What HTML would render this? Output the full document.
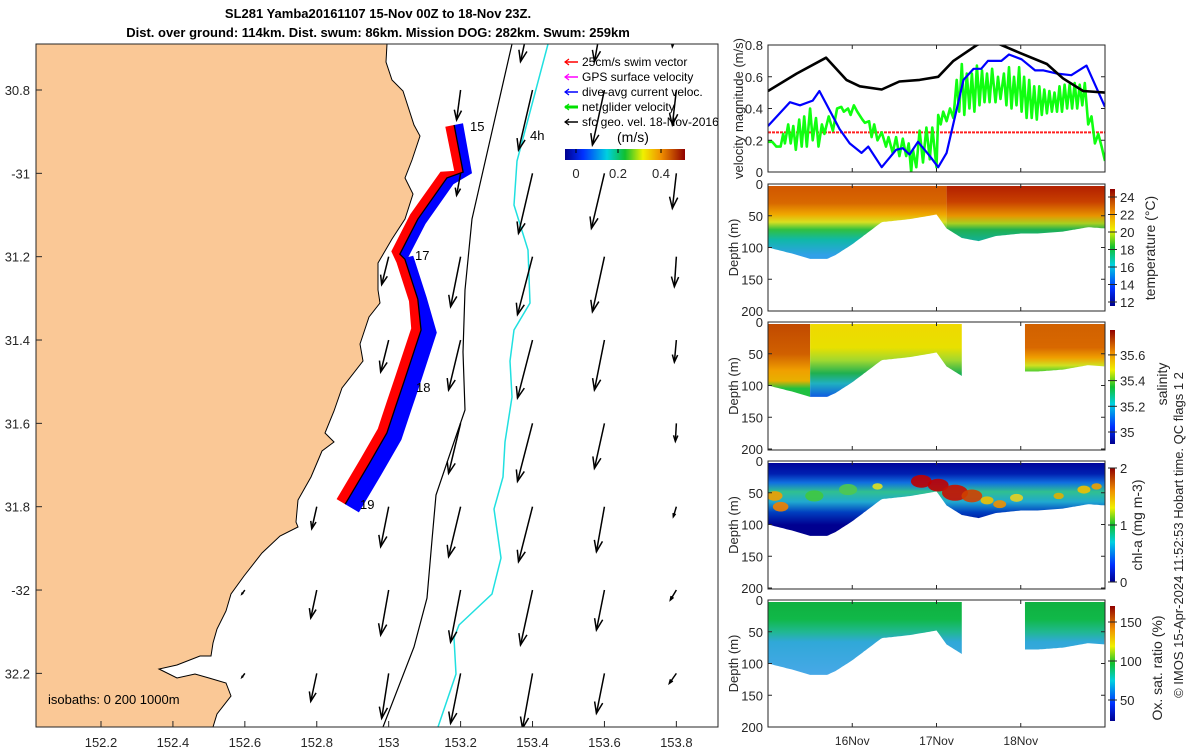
<!DOCTYPE html>
<html><head><meta charset="utf-8"><style>
html,body{margin:0;padding:0;background:#fff;}
svg{display:block;font-family:"Liberation Sans","DejaVu Sans",sans-serif;}
</style></head><body>
<svg id="fig" width="1200" height="750" viewBox="0 0 1200 750" xmlns="http://www.w3.org/2000/svg">
<defs>
<clipPath id="mapclip"><rect x="36" y="44" width="682" height="683"/></clipPath>
<clipPath id="velclip"><rect x="768" y="45" width="337" height="127"/></clipPath>
<linearGradient id="jet" x1="0" y1="1" x2="0" y2="0">
<stop offset="0" stop-color="#00008f"/><stop offset="0.15" stop-color="#0030ff"/><stop offset="0.35" stop-color="#00d0e0"/><stop offset="0.5" stop-color="#10c030"/><stop offset="0.65" stop-color="#f0f000"/><stop offset="0.8" stop-color="#f09000"/><stop offset="1" stop-color="#900000"/></linearGradient>
<linearGradient id="jeth" x1="0" y1="0" x2="1" y2="0">
<stop offset="0" stop-color="#00008f"/><stop offset="0.15" stop-color="#0030ff"/><stop offset="0.35" stop-color="#00d0e0"/><stop offset="0.5" stop-color="#10c030"/><stop offset="0.65" stop-color="#f0f000"/><stop offset="0.8" stop-color="#f09000"/><stop offset="1" stop-color="#900000"/></linearGradient>
<linearGradient id="gTempL" gradientUnits="userSpaceOnUse" x1="0" y1="184" x2="0" y2="311">
<stop offset="0" stop-color="#d05400"/><stop offset="0.15" stop-color="#d86800"/><stop offset="0.24" stop-color="#f0a800"/><stop offset="0.3" stop-color="#d8e020"/><stop offset="0.36" stop-color="#30c040"/><stop offset="0.44" stop-color="#10b8a8"/><stop offset="0.56" stop-color="#30a0e8"/><stop offset="1" stop-color="#3090f0"/></linearGradient>
<linearGradient id="gTempR" gradientUnits="userSpaceOnUse" x1="0" y1="184" x2="0" y2="311">
<stop offset="0" stop-color="#b01c00"/><stop offset="0.14" stop-color="#c84000"/><stop offset="0.25" stop-color="#e89400"/><stop offset="0.31" stop-color="#a8d020"/><stop offset="0.36" stop-color="#20b050"/><stop offset="0.46" stop-color="#10b0a0"/><stop offset="1" stop-color="#10b0a0"/></linearGradient>
<linearGradient id="gSalA" gradientUnits="userSpaceOnUse" x1="0" y1="322" x2="0" y2="450">
<stop offset="0" stop-color="#c04800"/><stop offset="0.25" stop-color="#d06000"/><stop offset="0.38" stop-color="#f0a000"/><stop offset="0.46" stop-color="#e8b000"/><stop offset="0.52" stop-color="#20c040"/><stop offset="1" stop-color="#20c040"/></linearGradient>
<linearGradient id="gSalB" gradientUnits="userSpaceOnUse" x1="0" y1="322" x2="0" y2="450">
<stop offset="0" stop-color="#f0d800"/><stop offset="0.2" stop-color="#e8e000"/><stop offset="0.3" stop-color="#a0d830"/><stop offset="0.4" stop-color="#20b050"/><stop offset="0.48" stop-color="#20b0c0"/><stop offset="0.58" stop-color="#1060e0"/><stop offset="1" stop-color="#1060e0"/></linearGradient>
<linearGradient id="gSalC" gradientUnits="userSpaceOnUse" x1="0" y1="322" x2="0" y2="450">
<stop offset="0" stop-color="#d06000"/><stop offset="0.2" stop-color="#d86800"/><stop offset="0.28" stop-color="#f0a000"/><stop offset="0.34" stop-color="#d0e020"/><stop offset="0.38" stop-color="#60d030"/><stop offset="1" stop-color="#30c040"/></linearGradient>
<linearGradient id="gChl" gradientUnits="userSpaceOnUse" x1="0" y1="461" x2="0" y2="589">
<stop offset="0" stop-color="#000098"/><stop offset="0.1" stop-color="#0020b0"/><stop offset="0.17" stop-color="#1070e0"/><stop offset="0.24" stop-color="#30c090"/><stop offset="0.32" stop-color="#20a8d0"/><stop offset="0.4" stop-color="#0040c0"/><stop offset="0.5" stop-color="#000090"/><stop offset="1" stop-color="#000080"/></linearGradient>
<linearGradient id="gOxy" gradientUnits="userSpaceOnUse" x1="0" y1="600" x2="0" y2="727">
<stop offset="0" stop-color="#10b040"/><stop offset="0.15" stop-color="#10b848"/><stop offset="0.25" stop-color="#20b890"/><stop offset="0.33" stop-color="#30a8d8"/><stop offset="0.6" stop-color="#48a8e8"/><stop offset="1" stop-color="#48a8e8"/></linearGradient>
</defs>
<g id="map"></g>
<g id="right"></g>
<text x="378" y="18" text-anchor="middle" font-size="13" font-weight="bold">SL281 Yamba20161107 15-Nov 00Z to 18-Nov 23Z.</text>
<text x="378" y="37" text-anchor="middle" font-size="13" font-weight="bold">Dist. over ground: 114km. Dist. swum: 86km. Mission DOG: 282km. Swum: 259km</text>
</svg>
<script>
// ---------- MAP DATA ----------
const xTickLons = [152.2,152.4,152.6,152.8,153,153.2,153.4,153.6,153.8];
const yTickLats = [30.8,31,31.2,31.4,31.6,31.8,32,32.2];
const yTickLabels = ["30.8","-31","31.2","31.4","31.6","31.8","-32","32.2"];
const trackLon = [153.182,153.207,153.162,153.081,153.031,153.045,153.081,153.090,153.045,153.020,152.995,152.945,152.879];
const trackLat = [30.884,30.997,31.011,31.110,31.194,31.206,31.302,31.376,31.494,31.558,31.623,31.698,31.794];
const arrowLon = [];
const arrowLat = [];
const arrowU = [];
const arrowV = [];
const arrowCols = [152.6,152.8,153.0,153.2,153.4,153.6,153.8];
const arrowRows = [30.6,30.8,31.0,31.2,31.4,31.6,31.8,32.0,32.2];
const arrowUGrid = [
 [null,null,null,null,null,null,null,-0.03,-0.03],
 [null,null,null,null,null,null,-0.05,-0.06,-0.06],
 [null,null,null,-0.07,-0.08,null,-0.08,-0.08,-0.07],
 [null,-0.04,-0.04,-0.1,-0.12,-0.12,-0.12,-0.1,-0.1],
 [-0.12,-0.14,-0.14,-0.15,-0.15,-0.15,-0.14,-0.12,-0.1],
 [-0.1,-0.12,-0.13,-0.12,-0.1,-0.1,-0.08,-0.08,-0.08],
 [-0.04,-0.04,-0.04,-0.02,-0.02,-0.01,-0.03,-0.06,-0.07]];
const arrowVGrid = [
 [null,null,null,null,null,null,null,-0.04,-0.04],
 [null,null,null,null,null,null,-0.22,-0.28,-0.28],
 [null,null,null,-0.28,-0.32,null,-0.4,-0.45,-0.45],
 [null,-0.3,-0.22,-0.5,-0.5,-0.5,-0.5,-0.52,-0.5],
 [-0.55,-0.6,-0.6,-0.58,-0.58,-0.58,-0.55,-0.55,-0.55],
 [-0.55,-0.55,-0.55,-0.55,-0.5,-0.45,-0.45,-0.4,-0.4],
 [-0.4,-0.35,-0.35,-0.3,-0.22,-0.18,-0.1,-0.1,-0.1]];
for (let c=0;c<arrowCols.length;c++) for (let r=0;r<arrowRows.length;r++) {
  if (arrowUGrid[c][r]===null) continue;
  arrowLon.push(arrowCols[c]); arrowLat.push(arrowRows[r]);
  arrowU.push(arrowUGrid[c][r]); arrowV.push(arrowVGrid[c][r]);
}
const coastPts = [[387,44],[386,62],[392,80],[403,91],[414,125],[420,136],[412,160],[405,178],[413,194],[405,219],[392,239],[378,263],[378,290],[380,303],[369,317],[360,344],[363,361],[342,388],[334,411],[325,433],[334,442],[322,451],[311,477],[298,500],[296,522],[298,527],[280,536],[262,553],[244,576],[231,594],[226,611],[217,629],[213,643],[211,656],[200,656],[177,665],[159,669],[177,678],[195,674],[209,678],[226,683],[231,696],[217,714],[213,727]];
const iso1000 = [[512,44],[472,219],[465,290],[463,352],[465,410],[454,442],[436,495],[432,540],[427,598],[414,647],[383,727]];
const iso200 = [[548,44],[517,161],[514,205],[528,250],[530,303],[514,330],[510,361],[512,397],[505,442],[503,477],[494,509],[501,558],[492,594],[459,625],[454,638],[456,674],[438,727]];

// ---------- TIME SERIES DATA ----------
const geoT = [0,0.34,0.69,0.93,1.09,1.35,1.56,1.8,2.02,2.2,2.48,2.62,2.77,2.99,3.31,3.5,3.74,4.0];
const geoV = [0.51,0.62,0.72,0.58,0.54,0.52,0.57,0.58,0.60,0.70,0.80,0.83,0.80,0.75,0.68,0.59,0.51,0.50];
const daT = [0,0.26,0.38,0.53,0.61,0.85,0.97,1.11,1.19,1.35,1.52,1.6,1.68,1.78,1.92,2.02,2.12,2.32,2.44,2.53,2.61,2.77,2.86,3.01,3.17,3.27,3.43,3.6,3.78,4.0];
const daV = [0.29,0.44,0.42,0.45,0.51,0.27,0.18,0.12,0.16,0.03,0.14,0.15,0.11,0.19,0.10,0.03,0.12,0.58,0.65,0.65,0.70,0.70,0.74,0.71,0.64,0.64,0.62,0.61,0.67,0.41];
const netT = [0,.05,.1,.15,.18,.2,.24,.27,.3,.33,.37,.4,.43,.46,.5,.53,.57,.6,.64,.67,.72,.77,.82,.87,.9,.95,.98,1.02,1.06,1.12,1.15,1.2,1.23,1.26,1.3,1.35,1.4,1.43,1.48,1.52,1.56,1.6,1.64,1.67,1.7,1.72,1.76,1.8,1.84,1.88,1.92,1.95,2.0,2.02,2.05,2.08,2.12,2.16,2.2,2.24,2.27,2.3,2.33,2.36,2.39,2.42,2.45,2.48,2.51,2.54,2.57,2.6,2.63,2.66,2.7,2.73,2.76,2.8,2.83,2.86,2.89,2.92,2.95,2.98,3.01,3.04,3.07,3.1,3.13,3.16,3.19,3.22,3.25,3.28,3.31,3.34,3.37,3.4,3.43,3.46,3.49,3.52,3.55,3.58,3.61,3.64,3.67,3.7,3.73,3.76,3.8,3.84,3.88,3.92,3.96,4.0];
const netV = [.19,.19,.16,.16,.24,.18,.30,.18,.29,.14,.33,.16,.35,.16,.40,.2,.34,.16,.30,.24,.35,.26,.40,.41,.38,.40,.36,.42,.38,.33,.31,.32,.22,.30,.20,.25,.16,.22,.12,.22,.10,.21,.10,.18,0,.14,.03,.26,.06,.28,.08,.28,.03,.36,.30,.38,.32,.40,.34,.58,.38,.68,.36,.62,.40,.62,.38,.67,.42,.64,.44,.62,.44,.65,.44,.60,.46,.62,.42,.66,.40,.60,.42,.66,.38,.60,.34,.58,.34,.54,.33,.54,.36,.52,.37,.51,.38,.50,.38,.54,.38,.55,.40,.55,.40,.56,.40,.55,.42,.56,.3,.35,.18,.24,.16,.07];
const swimV = 0.25;
const profT = [0,0.3,0.5,0.7,0.8,1.0,1.2,1.35,1.5,1.7,2.0,2.12,2.3,2.5,2.7,3.0,3.2,3.5,3.8,4.0];
const profD = [100,110,118,118,112,95,75,60,58,55,48,70,85,90,82,78,78,75,68,70];
const gapStart = 2.30, gapEnd = 3.05;
const velTicks = [0,0.2,0.4,0.6,0.8];
const depthTicks = [0,50,100,150,200];
const dayTicks = [1,2,3];
const dayLabels = ["16Nov","17Nov","18Nov"];
const chlBlobT = [0.08,0.15,0.55,0.95,1.3,1.82,2.02,2.22,2.42,2.6,2.75,2.95,3.45,3.75,3.9];
const chlBlobD = [55,72,55,45,40,32,38,50,55,62,68,58,55,45,40];
const chlBlobR = [6,6,7,7,4,8,8,10,8,5,5,5,4,5,4];
const chlBlobC = ["#f0a000","#f08000","#40c840","#50c850","#e0e020","#c00000","#c00000","#c81000","#d04000","#f0c000","#f09000","#e8d020","#e0b000","#f0c000","#f0a000"];

const NS="http://www.w3.org/2000/svg";
function mk(tag, attrs, parent){const e=document.createElementNS(NS,tag);for(const k in attrs)e.setAttribute(k,attrs[k]);if(parent)parent.appendChild(e);return e;}
function txt(s,x,y,attrs,parent){const e=mk('text',Object.assign({x:x,y:y,'font-size':13,fill:'#262626'},attrs),parent);e.textContent=s;return e;}

// ---------- MAP ----------
const map=document.getElementById('map');
const MX=lon=>101+(lon-152.2)*359.6;
const MY=lat=>90+(lat-30.8)*416.7;
const inner=mk('g',{'clip-path':'url(#mapclip)'},map);
let land="M36,44 "+coastPts.map(p=>"L"+p[0]+","+p[1]).join(" ")+" L36,727 Z";
const landEl=mk('path',{d:land,fill:'#fac896',stroke:'#000','stroke-width':1},inner);


const i1=mk('polyline',{points:iso1000.map(p=>p.join(',')).join(' '),fill:'none',stroke:'#000','stroke-width':1.2},inner);


const i2=mk('polyline',{points:iso200.map(p=>p.join(',')).join(' '),fill:'none',stroke:'#20e0e0','stroke-width':1.5},inner);


const tp=trackLon.map((l,i)=>[MX(l),MY(trackLat[i])]);
function offsetPoly(w1,w2,side){const a=[],b=[];for(let i=0;i<tp.length;i++){const p0=tp[Math.max(0,i-1)],p1=tp[Math.min(tp.length-1,i+1)];let dx=p1[0]-p0[0],dy=p1[1]-p0[1];const L=Math.hypot(dx,dy)||1;const nx=-dy/L*side,ny=dx/L*side;const w=i<tp.length/2?w1:w2;a.push([tp[i][0],tp[i][1]]);b.push([tp[i][0]+nx*w,tp[i][1]+ny*w]);}return a.concat(b.reverse()).map(p=>p[0].toFixed(1)+','+p[1].toFixed(1)).join(' ');}
const redB=mk('polygon',{points:offsetPoly(9,10,1),fill:'#ff0000'},inner);


const bluB=mk('polygon',{points:offsetPoly(9,16,-1),fill:'#0000ff'},inner);


const trk=mk('polyline',{points:tp.map(p=>p.join(',')).join(' '),fill:'none',stroke:'#000','stroke-width':1.3},inner);


const AS=100;
for(let i=0;i<arrowLon.length;i++){
  const x0=MX(arrowLon[i]),y0=MY(arrowLat[i]);
  const x1=x0+arrowU[i]*AS,y1=y0-arrowV[i]*AS;
  const ang=Math.atan2(y1-y0,x1-x0),L=Math.hypot(x1-x0,y1-y0),h=Math.min(12,L*0.35);
  const g=mk('g',{},inner);
  
  
  mk('line',{x1:x0,y1:y0,x2:x1,y2:y1,stroke:'#000','stroke-width':1.5},g);
  const a1=ang+Math.PI-0.35,a2=ang+Math.PI+0.35;
  mk('polyline',{points:`${x1+h*Math.cos(a1)},${y1+h*Math.sin(a1)} ${x1},${y1} ${x1+h*Math.cos(a2)},${y1+h*Math.sin(a2)}`,fill:'none',stroke:'#000','stroke-width':1.5},g);
}
const dayLbl=[["15",470,131],["17",415,260],["18",416,392],["19",360,509],["4h",530,140]];
dayLbl.forEach(d=>{const t=txt(d[0],d[1],d[2],{'font-size':13,fill:'#000'},inner);});
const isoT=txt("isobaths: 0   200  1000m",48,704,{'font-size':13,fill:'#000','xml:space':'preserve'},inner);


const leg=mk('g',{},map);


const legItems=[["25cm/s swim vector","#ff0000"],["GPS surface velocity","#ff00ff"],["dive-avg current veloc.","#0000ff"],["net glider velocity","#00e000"],["sfc geo. vel. 18-Nov-2016","#000"]];
legItems.forEach((it,i)=>{const y=62+i*15;const g=mk('g',{},leg);
 mk('line',{x1:565,y1:y,x2:578,y2:y,stroke:it[1],'stroke-width':it[1]=="#00e000"?3:1.5},g);
 mk('polyline',{points:`${569},${y-3} ${565},${y} ${569},${y+3}`,fill:'none',stroke:it[1],'stroke-width':1.2},g);
 txt(it[0],582,y+4,{'font-size':12,fill:'#000'},g);});
txt("(m/s)",617,142,{'font-size':14,fill:'#000'},leg);
mk('rect',{x:565,y:149,width:120,height:11,fill:'url(#jeth)'},leg);
[["0",576],["0.2",618],["0.4",661]].forEach(l=>{mk('line',{x1:l[1],y1:149,x2:l[1],y2:153,stroke:'#000'},leg);txt(l[0],l[1],178,{'text-anchor':'middle','font-size':13},leg);});
mk('rect',{x:36,y:44,width:682,height:683,fill:'none',stroke:'#262626','stroke-width':1},map);
xTickLons.forEach(l=>{const x=MX(l);mk('line',{x1:x,y1:727,x2:x,y2:721,stroke:'#262626'},map);const t=txt(String(l),x,747,{'text-anchor':'middle'},map);});
yTickLats.forEach((l,i)=>{const y=MY(l);mk('line',{x1:36,y1:y,x2:42,y2:y,stroke:'#262626'},map);const t=txt(yTickLabels[i],30,y+5,{'text-anchor':'end'},map);});

// ---------- RIGHT PANELS ----------
const R=document.getElementById('right');
const X0=768,X1=1105;
const TX=t=>X0+t/4*(X1-X0);
const VY=v=>172-v/0.8*127;
function panelAxes(top,bot,ticks,fy,name,ylabel,lx){
  const g=mk('g',{},R);
  mk('rect',{x:X0,y:top,width:X1-X0,height:bot-top,fill:'none',stroke:'#262626','stroke-width':1},g);
  ticks.forEach(v=>{const y=fy(v);mk('line',{x1:X0,y1:y,x2:X0+4,y2:y,stroke:'#262626'},g);mk('line',{x1:X1,y1:y,x2:X1-4,y2:y,stroke:'#262626'},g);txt(String(v),763,y+5,{'text-anchor':'end'},g);});
  dayTicks.forEach(d=>{const x=TX(d);mk('line',{x1:x,y1:bot,x2:x,y2:bot-4,stroke:'#262626'},g);mk('line',{x1:x,y1:top,x2:x,y2:top+4,stroke:'#262626'},g);});
  const cy=(top+bot)/2;txt(ylabel,lx,cy,{'text-anchor':'middle',transform:`rotate(-90 ${lx} ${cy})`},g);
  return g;
}
const vg=mk('g',{'clip-path':'url(#velclip)'},R);
function line(T,V,color,w,name){const e=mk('polyline',{points:T.map((t,i)=>TX(t).toFixed(1)+','+VY(V[i]).toFixed(1)).join(' '),fill:'none',stroke:color,'stroke-width':w,'stroke-linejoin':'round'},vg);}
const sw=mk('line',{x1:X0,y1:VY(swimV),x2:X1,y2:VY(swimV),stroke:'#ff2020','stroke-width':2,'stroke-dasharray':'3,1'},vg);


line(netT,netV,'#10ff10',2.6,'net-glider-velocity-line');
line(daT,daV,'#0000ff',2.2,'dive-avg-current-line');
line(geoT,geoV,'#000',2.6,'geo-velocity-line');
panelAxes(45,172,velTicks,VY,'velocity-panel','velocity magnitude (m/s)',743);

function DY(top,d){return top+d/200*127;}
function profPath(top,t0,t1,rightDrop){
  const pts=[];const step=0.02;
  for(let t=t0;t<=t1+1e-9;t+=step){pts.push([TX(t),DY(top,interp(t))]);}
  if(rightDrop)pts.push([TX(t1),DY(top,rightDrop)]);
  return `M${TX(t0)},${top+2} `+pts.map(p=>'L'+p[0].toFixed(1)+','+p[1].toFixed(1)).join(' ')+` L${TX(t1)},${top+2} Z`;
}
function interp(t){for(let i=0;i<profT.length-1;i++){if(t<=profT[i+1]){const f=(t-profT[i])/(profT[i+1]-profT[i]);return profD[i]+f*(profD[i+1]-profD[i]);}}return profD[profD.length-1];}
function clipFor(id,top,segs){const cp=mk('clipPath',{id:id},document.querySelector('defs'));segs.forEach(s=>mk('path',{d:profPath(top,s[0],s[1],s[2])},cp));}
clipFor('cT',184,[[0,4]]);
const tg=mk('g',{'clip-path':'url(#cT)'},R);
mk('rect',{x:X0,y:184,width:TX(2.12)-X0,height:127,fill:'url(#gTempL)'},tg);
mk('rect',{x:TX(2.12),y:184,width:X1-TX(2.12),height:127,fill:'url(#gTempR)'},tg);
panelAxes(184,311,depthTicks,d=>DY(184,d),'temperature-panel','Depth (m)',738);
clipFor('cS',322,[[0,gapStart,80],[gapEnd,4]]);
const sg=mk('g',{'clip-path':'url(#cS)'},R);
mk('rect',{x:X0,y:322,width:TX(0.5)-X0,height:128,fill:'url(#gSalA)'},sg);
mk('rect',{x:TX(0.5),y:322,width:TX(3)-TX(0.5),height:128,fill:'url(#gSalB)'},sg);
mk('rect',{x:TX(3),y:322,width:X1-TX(3),height:128,fill:'url(#gSalC)'},sg);
panelAxes(322,450,depthTicks,d=>DY(322,d),'salinity-panel','Depth (m)',738);
clipFor('cC',461,[[0,4]]);
const cg=mk('g',{'clip-path':'url(#cC)'},R);
mk('rect',{x:X0,y:461,width:X1-X0,height:128,fill:'url(#gChl)'},cg);
for(let i=0;i<chlBlobT.length;i++){const e=mk('ellipse',{cx:TX(chlBlobT[i]),cy:DY(461,chlBlobD[i]),rx:chlBlobR[i]*1.3,ry:chlBlobR[i]*0.8,fill:chlBlobC[i],opacity:0.9},cg);}
panelAxes(461,589,depthTicks,d=>DY(461,d),'chl-panel','Depth (m)',738);
clipFor('cO',600,[[0,gapStart,80],[gapEnd,4]]);
const og=mk('g',{'clip-path':'url(#cO)'},R);
mk('rect',{x:X0,y:600,width:X1-X0,height:127,fill:'url(#gOxy)'},og);
const oxAx=panelAxes(600,727,depthTicks,d=>DY(600,d),'oxygen-panel','Depth (m)',738);
dayTicks.forEach((d,i)=>{const t=txt(dayLabels[i],TX(d),745,{'text-anchor':'middle','font-size':12},oxAx);});

function cbar(y0,y1,labels,fy,title,tx,ty,name){const g=mk('g',{},R);
 mk('rect',{x:1110,y:y0,width:5,height:y1-y0,fill:'url(#jet)'},g);
 labels.forEach(v=>{const y=fy(v);mk('line',{x1:1108,y1:y,x2:1117,y2:y,stroke:'#262626'},g);txt(String(v),1120,y+5,{},g);});
 txt(title,tx,ty,{'text-anchor':'middle','font-size':14,transform:`rotate(-90 ${tx} ${ty})`},g);}
cbar(189,306,[12,14,16,18,20,22,24],v=>302-(v-12)*8.75,'temperature (°C)',1155,248,'temperature-colorbar');
cbar(330,444,[35,35.2,35.4,35.6],v=>432-(v-35)*128.5,'salinity',1167,384,'salinity-colorbar');
cbar(468,582,[0,1,2],v=>582-v*57,'chl-a (mg m-3)',1142,525,'chl-colorbar');
cbar(606,721,[50,100,150],v=>700-(v-50)*0.78,'Ox. sat. ratio (%)',1162,668,'oxygen-colorbar');
const cr=txt("© IMOS 15-Apr-2024 11:52:53 Hobart time. QC flags 1  2",1183,535,{'text-anchor':'middle','font-size':13,'xml:space':'preserve',transform:'rotate(-90 1183 535)'},R);


</script>
</body></html>
